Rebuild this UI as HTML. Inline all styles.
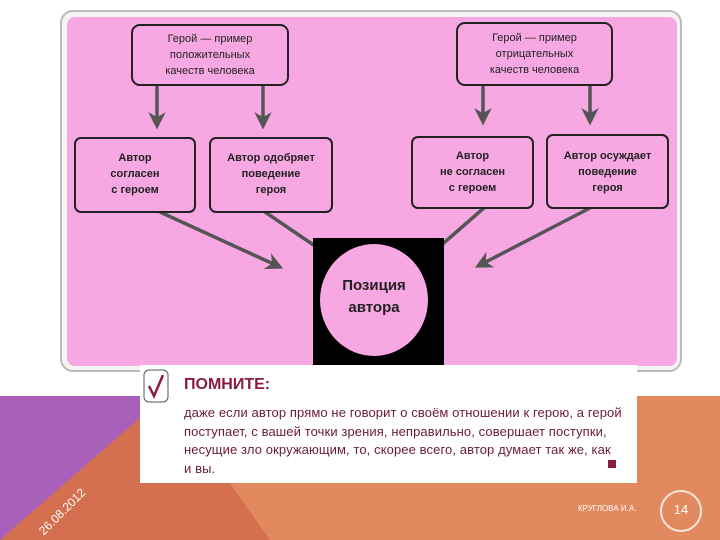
<!DOCTYPE html>
<html><head><meta charset="utf-8"><style>
body{margin:0;width:720px;height:540px;overflow:hidden;background:#fff;position:relative;font-family:"Liberation Sans","Noto Sans CJK SC",sans-serif}
.t{position:absolute;text-align:center;color:#222;font-size:11px;line-height:16px}
.b{font-weight:bold}
</style></head><body>
<svg width="720" height="540" style="position:absolute;left:0;top:0">
<defs><marker id="a" markerWidth="6" markerHeight="6" refX="4" refY="3" orient="auto" markerUnits="strokeWidth"><path d="M0,0.5 L5,3 L0,5.5 L1.5,3 z" fill="#555"/></marker></defs>
<rect x="0" y="396" width="720" height="144" fill="#d4704f"/>
<polygon points="0,396 165,396 0,540" fill="#a960b8"/>
<polygon points="230,483 640,396 720,396 720,540 270,540" fill="#e2895f"/>
<rect x="61" y="11" width="620" height="360" rx="12" fill="#f4f4f4" stroke="#bbb" stroke-width="2"/>
<rect x="67" y="17" width="610" height="349" rx="8" fill="#f7a8e2"/>
<g stroke="#555" stroke-width="3.5" fill="none" marker-end="url(#a)">
<line x1="157" y1="85" x2="157" y2="126"/>
<line x1="263" y1="85" x2="263" y2="126"/>
<line x1="483" y1="85" x2="483" y2="122"/>
<line x1="590" y1="85" x2="590" y2="122"/>
<line x1="160" y1="212" x2="280" y2="267"/>
<line x1="590" y1="208" x2="478" y2="266"/>
</g>
<g stroke="#555" stroke-width="3.5">
<line x1="265" y1="212" x2="318" y2="248"/>
<line x1="485" y1="207" x2="438" y2="248"/>
</g>
<g fill="#f7a8e2" stroke="#222" stroke-width="2">
<rect x="132" y="25" width="156" height="60" rx="8"/>
<rect x="457" y="23" width="155" height="62" rx="8"/>
<rect x="75" y="138" width="120" height="74" rx="6"/>
<rect x="210" y="138" width="122" height="74" rx="6"/>
<rect x="412" y="137" width="121" height="71" rx="6"/>
<rect x="547" y="135" width="121" height="73" rx="6"/>
</g>
<rect x="313" y="238" width="131" height="127" fill="#000"/>
<ellipse cx="374" cy="300" rx="54" ry="56" fill="#f7a8e2"/>
<rect x="140" y="365" width="497" height="118" fill="#fff"/>
<rect x="144" y="370" width="24" height="32" rx="5" fill="none" stroke="#555" stroke-width="1"/>
<path d="M149,386 L154,396 L163,375" fill="none" stroke="#8a1a44" stroke-width="2.5"/>
<rect x="608" y="460" width="8" height="8" fill="#8a1a44"/>
<circle cx="681" cy="511" r="20" fill="none" stroke="#f6e6d8" stroke-width="2"/>
</svg>
<div class="t" style="left:132px;top:31px;width:156px">Герой — пример<br>положительных<br>качеств человека</div>
<div class="t" style="left:457px;top:30px;width:155px">Герой — пример<br>отрицательных<br>качеств человека</div>
<div class="t b" style="left:75px;top:150px;width:120px">Автор<br>согласен<br>с героем</div>
<div class="t b" style="left:210px;top:150px;width:122px">Автор одобряет<br>поведение<br>героя</div>
<div class="t b" style="left:412px;top:148px;width:121px">Автор<br>не согласен<br>с героем</div>
<div class="t b" style="left:547px;top:148px;width:121px">Автор осуждает<br>поведение<br>героя</div>
<div class="t b" style="left:320px;top:275px;width:108px;font-size:15px;line-height:22px">Позиция<br>автора</div>
<div style="position:absolute;left:184px;top:376px;font-size:16px;font-weight:bold;color:#8a1a44">ПОМНИТЕ:</div>
<div style="position:absolute;left:184px;top:404px;width:450px;font-size:13px;line-height:18.5px;color:#6a1a3a;white-space:nowrap;letter-spacing:0.1px">даже если автор прямо не говорит о своём отношении к герою, а герой<br>поступает, с вашей точки зрения, неправильно, совершает поступки,<br>несущие зло окружающим, то, скорее всего, автор думает так же, как<br>и вы.</div>
<div style="position:absolute;left:36px;top:528px;font-size:12px;color:#fff;transform:rotate(-45deg);transform-origin:left top">26.08.2012</div>
<div style="position:absolute;left:578px;top:504px;font-size:8px;color:#fff">КРУГЛОВА И.А.</div>
<div style="position:absolute;left:661px;top:502px;width:40px;text-align:center;font-size:13px;color:#fff">14</div>
</body></html>
